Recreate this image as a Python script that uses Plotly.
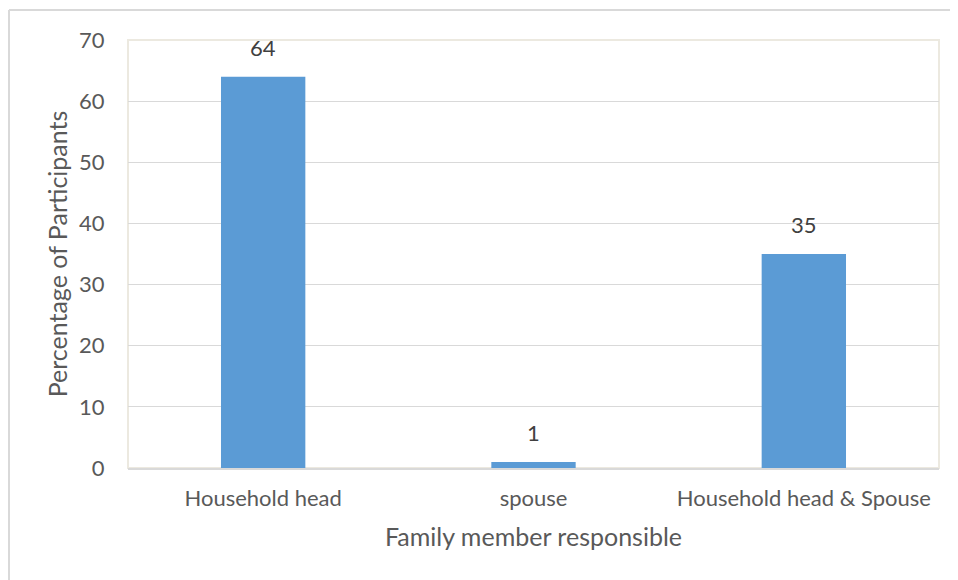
import plotly.graph_objects as go

categories = ["Household head", "spouse", "Household head &amp; Spouse"]
values = [64, 1, 35]
y_ticks = [0, 10, 20, 30, 40, 50, 60, 70]

# The page body has an 8px margin, so the figure starts at (8, 8) in the window.
W, H = 950, 572
L, R, T, B = 120, 19, 32, 112
pw, ph = W - L - R, H - T - B

def px_x(p):
    return (p - L) / pw

def px_y(p):
    return (H - B - p) / ph

fig = go.Figure(go.Bar(
    x=categories, y=values,
    marker=dict(color="#5b9bd5", line=dict(width=0)),
    width=0.312,
    cliponaxis=False,
))

for c, v in zip(categories, values):
    fig.add_annotation(x=c, y=v, text=str(v), showarrow=False,
                       yanchor="bottom", yshift=14,
                       font=dict(family="Lato", size=22, color="#404040"))

fig.update_layout(
    width=W, height=H,
    margin=dict(l=L, r=R, t=T, b=B),
    paper_bgcolor="white", plot_bgcolor="white",
    font=dict(family="Lato", color="#595959"),
    showlegend=False,
    xaxis=dict(
        tickfont=dict(size=22, color="#595959"),
        showgrid=False, showline=True, linecolor="#d9d9d9", linewidth=2,
        ticks="outside", ticklen=10, tickcolor="rgba(0,0,0,0)",
        title=dict(text="Family member responsible", font=dict(size=25, color="#595959"), standoff=18),
    ),
    yaxis=dict(
        range=[0, 70], tickvals=y_ticks,
        tickfont=dict(size=22, color="#595959"),
        showgrid=True, gridcolor="#d9d9d9", gridwidth=1,
        zeroline=False, showline=False,
        ticks="outside", ticklen=18, tickcolor="rgba(0,0,0,0)",
        title=dict(text="Percentage of Participants", font=dict(size=25, color="#595959"), standoff=4),
    ),
    shapes=[
        dict(type="rect", xref="paper", yref="paper", x0=0, x1=1, y0=0, y1=1,
             line=dict(color="#ece9e0", width=2), layer="below"),
        dict(type="line", xref="paper", yref="paper", x0=px_x(1), x1=px_x(1), y0=px_y(2), y1=px_y(600),
             line=dict(color="#d9d9d9", width=2)),
        dict(type="line", xref="paper", yref="paper", x0=px_x(1), x1=px_x(980), y0=px_y(2), y1=px_y(2),
             line=dict(color="#d9d9d9", width=2)),
    ],
)

fig.write_html("out.html")
